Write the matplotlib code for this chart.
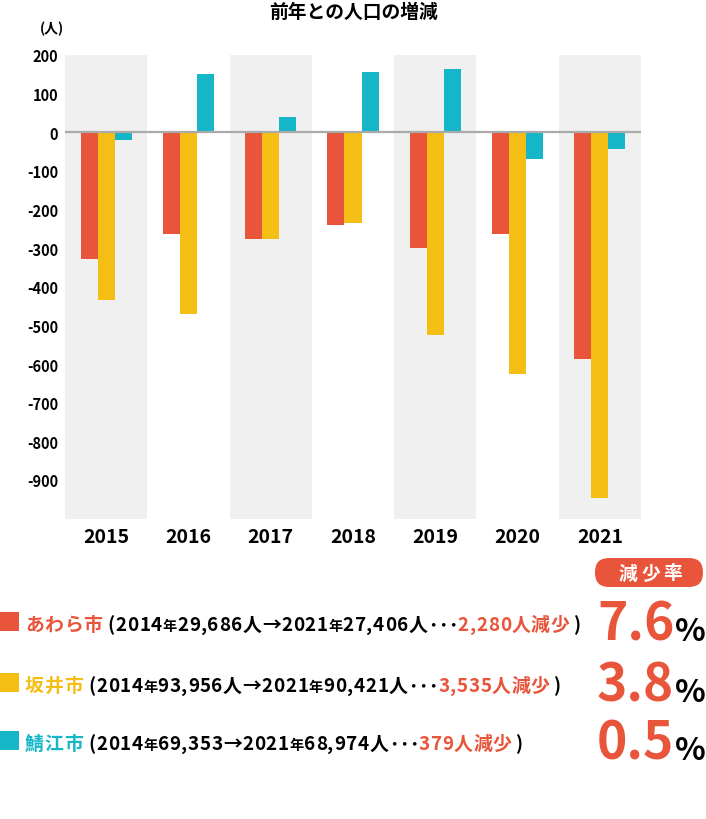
import numpy as np
import matplotlib
matplotlib.use("Agg")
import matplotlib.pyplot as plt
from matplotlib.patches import Rectangle, FancyBboxPatch

plt.rcParams['font.family'] = ['Noto Sans CJK JP', 'DejaVu Sans']

# データ（前年との人口の増減）
years = ['2015', '2016', '2017', '2018', '2019', '2020', '2021']
awara = [-328, -263, -276, -240, -299, -263, -586]
sakai = [-434, -470, -276, -235, -524, -625, -948]
sabae = [-20, 150, 39, 156, 165, -69, -44]
yticks = [200, 100, 0, -100, -200, -300, -400, -500, -600, -700, -800, -900]

# 凡例の内容
cities = ['あわら市', '坂井市', '鯖江市']
from_pop = ['29,686人', '93,956人', '69,353']
to_pop = ['27,406人', '90,421人', '68,974人']
decrease = ['2,280', '3,535', '379']
rates = ['7.6', '3.8', '0.5']

RED = '#E8553A'
YELLOW = '#F5BE14'
CYAN = '#14B6C8'
colors = [RED, YELLOW, CYAN]

W, H = 706, 820
fig = plt.figure(figsize=(W / 100, H / 100), dpi=100)

# グラフ部分（ピクセル位置で配置）
left, right, top, bottom = 65, 641, 56, 519.5
ax = fig.add_axes([left / W, 1 - bottom / H, (right - left) / W, (bottom - top) / H])

x = np.arange(len(years))
w = 0.207
for i in range(0, len(years), 2):
    ax.axvspan(i - 0.5, i + 0.5, color='#F0F0F0', lw=0, zorder=0)

ax.bar(x - w, awara, w, color=RED, zorder=2)
ax.bar(x, sakai, w, color=YELLOW, zorder=2)
ax.bar(x + w, sabae, w, color=CYAN, zorder=2)
ax.axhline(0, color='#AAAAAA', lw=1.6, zorder=3)

ax.set_xlim(-0.5, len(years) - 0.5)
ax.set_ylim(-1000, 200)
ax.set_xticks(x)
ax.set_xticklabels(years, fontsize=14, fontweight='bold')
ax.set_yticks(yticks)
ax.set_yticklabels([str(v) for v in yticks], fontsize=10.5, fontweight='bold')
ax.tick_params(axis='both', length=0)
ax.tick_params(axis='y', pad=5)
ax.tick_params(axis='x', pad=6)
for s in ax.spines.values():
    s.set_visible(False)

# テキスト用のオーバーレイ（1単位 = 1ピクセル）
ov = fig.add_axes([0, 0, 1, 1])
ov.set_xlim(0, W)
ov.set_ylim(H, 0)
ov.axis('off')
ov.patch.set_alpha(0)

ov.text(353, 12, '前年との人口の増減', ha='center', va='center', fontsize=13.5, fontweight='bold')
ov.text(52, 29, '(人)', ha='center', va='center', fontsize=10, fontweight='bold')

# 減少率ラベル
pill = FancyBboxPatch((595, 559), 108, 29, boxstyle='round,pad=0,rounding_size=14',
                      fc=RED, ec='none')
ov.add_patch(pill)
for k, ch in enumerate('減少率'):
    ov.text(628 + k * 22.5, 574, ch, ha='center', va='center', fontsize=13.5,
            fontweight='bold', color='white')

fig.canvas.draw()
renderer = fig.canvas.get_renderer()


def char_width(ch, fs):
    t = ov.text(0, 0, ch, fontsize=fs, fontweight='bold')
    wd = t.get_window_extent(renderer).width
    t.remove()
    return wd


def row_chars(i):
    parts = [
        (cities[i], colors[i], size, 0),
        ('(', 'black', size, 5),
        ('2014', 'black', size, 0),
        ('年', 'black', size * 0.75, 0),
        (from_pop[i], 'black', size, 0),
        ('→', 'black', size, 0),
        ('2021', 'black', size, 0),
        ('年', 'black', size * 0.75, 0),
        (to_pop[i], 'black', size, 0),
        ('･･･', 'black', size, 0),
        (decrease[i] + '人減少', RED, size, 0),
        (')', 'black', size, 3),
    ]
    chars = []
    for s, c, fs, gap in parts:
        for j, ch in enumerate(s):
            chars.append((ch, c, fs, gap if j == 0 else 0))
    return chars


row_base = [631, 692, 750]
size = 13.6
x_start, x_end = 25, 580

# 1行目の幅に合わせて字間を決め、全行に同じ字間を使う
first = row_chars(0)
natural = sum(char_width(ch, fs) + gap for ch, c, fs, gap in first)
track = (x_end - x_start - natural) / (len(first) - 1)

for i in range(3):
    yb = row_base[i]
    ov.add_patch(Rectangle((0, yb - 18), 19, 19, fc=colors[i], ec='none'))
    xx = x_start
    for ch, c, fs, gap in row_chars(i):
        xx += gap
        ov.text(xx, yb, ch, ha='left', va='baseline', fontsize=fs,
                fontweight='bold', color=c)
        xx += char_width(ch, fs) + track

    yr = [641, 702, 760][i]
    ov.text(597, yr, rates[i], ha='left', va='baseline',
            fontsize=37, fontweight='bold', color=RED)
    ov.text(675, yr, '%', ha='left', va='baseline', fontsize=23,
            fontweight='bold', color='black')

fig.savefig('out.png', dpi=100)
